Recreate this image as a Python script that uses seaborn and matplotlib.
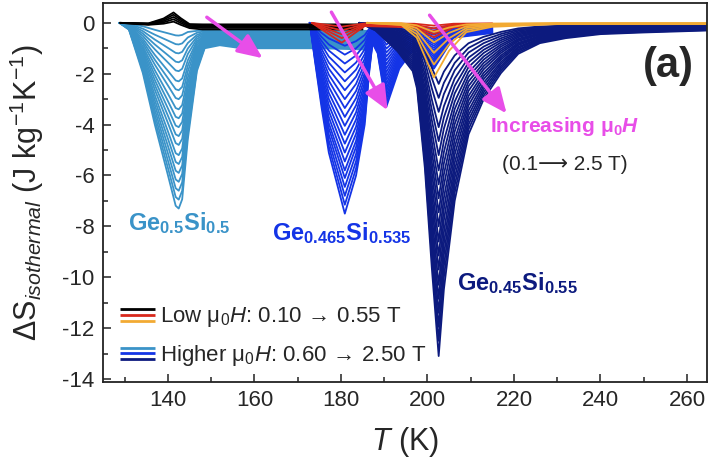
import numpy as np
import pandas as pd
import matplotlib
matplotlib.use("Agg")
import matplotlib.pyplot as plt
import seaborn as sns
from matplotlib.ticker import MultipleLocator
from matplotlib.legend_handler import HandlerBase
from matplotlib.lines import Line2D

# ---------------- data ----------------
fields_low = [0.1, 0.2, 0.3, 0.4, 0.5]
fields_high = [0.6, 0.7, 0.8, 0.9, 1.0, 1.1, 1.2, 1.3, 1.4, 1.5,
               1.6, 1.7, 1.8, 1.9, 2.0, 2.1, 2.2, 2.3, 2.4, 2.5]

# Ge0.5Si0.5  (higher fields): curve = peak*peak_shape + tail*tail_shape
s1_T_high = [128.8, 131.0, 134.2, 137.0, 140.0, 141.8, 142.5, 143.3, 144.6, 146.7,
             148.5, 152.0, 157.0, 175.0, 186.0]
s1_peak_shape = [0, 0.03, 0.27, 0.55, 0.82, 0.985, 1.0, 0.95, 0.6, 0.15,
                 0, 0, 0, 0, 0]
s1_tail_shape = [0, 0.05, 0, 0, 0, 0, 0, 0, 0.2, 0.8,
                 1.0, 0.88, 1.0, 1.0, 1.05]
s1_peak = [-0.5, -0.85, -1.2, -1.55, -1.9, -2.3, -2.65, -3.0, -3.4, -3.75,
           -4.1, -4.45, -4.8, -5.2, -5.55, -5.9, -6.25, -6.6, -6.95, -7.3]
s1_tail = [-0.3, -0.33, -0.37, -0.4, -0.44, -0.48, -0.51, -0.55, -0.59, -0.62,
           -0.66, -0.7, -0.73, -0.77, -0.81, -0.84, -0.88, -0.92, -0.96, -1.0]
# Ge0.5Si0.5 (low fields)
s1_T_low = [129.0, 135.5, 139.0, 141.3, 143.0, 145.0, 148.0, 160.0, 175.0, 185.0]
s1_low_peak_shape = [0, 0, 0.45, 1.0, 0.5, 0, 0, 0, 0, 0]
s1_low_tail_shape = [0, 0.3, 0.3, 0.2, 0.5, 0.8, 1.0, 1.0, 1.0, 1.0]
s1_low_peak = [0.42, 0.34, 0.26, 0.18, 0.1]
s1_low_tail = [-0.06, -0.1, -0.15, -0.2, -0.26]

# Ge0.465Si0.535 (higher fields)
s2_T_high = [172.8, 174.0, 175.5, 177.2, 180.9, 183.5, 185.5, 186.5, 187.3, 188.5,
             190.5, 193.5, 197.0, 201.5, 206.0, 215.0]
s2_peak_shape = [0, 0.2, 0.44, 0.68, 1.0, 0.8, 0.533, 0.267, 0.107, 0.16,
                 0.44, 0.24, 0.1, 0.2, 0.03, 0]
s2_tail_shape = [0, 0, 0, 0, 0, 0, 0, 0, 0, 0,
                 0, 0, 0.6, 0.75, 0.9, 1.0]
s2_peak = [-0.9, -1.25, -1.6, -1.95, -2.3, -2.65, -3.0, -3.35, -3.7, -4.05,
           -4.4, -4.75, -5.1, -5.45, -5.8, -6.1, -6.45, -6.8, -7.15, -7.5]
s2_tail = [-0.05, -0.07, -0.09, -0.11, -0.13, -0.15, -0.17, -0.19, -0.21, -0.23,
           -0.25, -0.27, -0.29, -0.31, -0.33, -0.35, -0.36, -0.37, -0.38, -0.4]
# Ge0.465Si0.535 (low fields)
s2_T_low = [173.3, 176.0, 180.2, 183.0, 185.5, 188.0, 197.0, 201.5, 206.0, 215.0]
s2_low_peak_shape = [0, 0.4, 1.0, 0.55, 0.1, 0.05, 0.1, 0.6, 0.1, 0]
s2_low_tail_shape = [0, 0, 0, 0, 0.5, 1, 1, 1, 1, 1]
s2_low_peak = [-0.15, -0.3, -0.45, -0.6, -0.78]
s2_low_tail = [-0.02, -0.04, -0.06, -0.08, -0.1]

# Ge0.45Si0.55 (higher fields)
s3_T_high = [184.3, 188.0, 193.0, 196.6, 197.6, 199.4, 201.0, 202.6, 203.8, 206.3,
             209.5, 213.0, 217.0, 221.0, 226.0, 232.0, 240.0, 250.0, 265.0]
s3_peak_shape = [0, 0.023, 0.084, 0.145, 0.198, 0.435, 0.733, 1.0, 0.80, 0.534,
                 0.33, 0.22, 0.13, 0.07, 0.038, 0.023, 0.011, 0.006, 0]
s3_tail_shape = [0, 0, 0, 0, 0, 0, 0, 0, 0, 0,
                 0.2, 0.4, 0.9, 1.0, 1.0, 1.0, 1.0, 1.0, 1.0]
s3_peak = [-2.4, -2.95, -3.5, -4.1, -4.65, -5.2, -5.8, -6.35, -6.9, -7.45,
           -8.0, -8.6, -9.15, -9.7, -10.3, -10.85, -11.4, -11.95, -12.5, -13.1]
s3_tail = [-0.05, -0.06, -0.07, -0.08, -0.09, -0.1, -0.11, -0.12, -0.14, -0.15,
           -0.16, -0.18, -0.19, -0.2, -0.22, -0.23, -0.25, -0.26, -0.28, -0.3]
# Ge0.45Si0.55 (low fields)
s3_T_low = [186.0, 194.0, 197.5, 201.5, 205.0, 209.0, 215.0, 230.0, 265.0]
s3_low_peak_shape = [0, 0.03, 0.25, 1.0, 0.5, 0.15, 0.05, 0, 0]
s3_low_tail_shape = [0, 0.5, 1, 1, 1, 1, 1, 1, 1]
s3_low_peak = [-0.35, -0.75, -1.15, -1.6, -2.1]
s3_low_tail = [-0.01, -0.02, -0.03, -0.04, -0.05]

x_ticks = [140, 160, 180, 200, 220, 240, 260]
y_ticks = [0, -2, -4, -6, -8, -10, -12, -14]

# ---------------- colours ----------------
c_lblue, c_blue, c_navy = "#3a93c8", "#1434e6", "#0c1a7e"
c_black, c_red, c_orange = "#000000", "#d8281c", "#f2aa33"
c_mag = "#e84ee8"

# ---------------- style ----------------
sns.set_style("ticks")
plt.rcParams["font.family"] = ["Liberation Sans", "DejaVu Sans"]
plt.rcParams["mathtext.fontset"] = "custom"
plt.rcParams["mathtext.rm"] = "Liberation Sans"
plt.rcParams["mathtext.it"] = "Liberation Sans:italic"
plt.rcParams["mathtext.bf"] = "Liberation Sans:bold"
plt.rcParams["mathtext.bfit"] = "Liberation Sans:bold:italic"
plt.rcParams["mathtext.fallback"] = "stixsans"
plt.rcParams["axes.unicode_minus"] = False


def family_frame(T, peak_shape, tail_shape, peaks, tails, fields):
    rows = []
    for f, p, t in zip(fields, peaks, tails):
        for Tj, a, b in zip(T, peak_shape, tail_shape):
            rows.append((f, Tj, p * a + t * b))
    return pd.DataFrame(rows, columns=["field", "T", "dS"])


fig = plt.figure(figsize=(7.09, 4.62), dpi=100)
ax = fig.add_axes([0.1453, 0.1742, 0.8523, 0.8193])

families = [
    (family_frame(s1_T_high, s1_peak_shape, s1_tail_shape, s1_peak, s1_tail, fields_high), c_lblue),
    (family_frame(s2_T_high, s2_peak_shape, s2_tail_shape, s2_peak, s2_tail, fields_high), c_blue),
    (family_frame(s3_T_high, s3_peak_shape, s3_tail_shape, s3_peak, s3_tail, fields_high), c_navy),
    (family_frame(s1_T_low, s1_low_peak_shape, s1_low_tail_shape, s1_low_peak, s1_low_tail, fields_low), c_black),
    (family_frame(s2_T_low, s2_low_peak_shape, s2_low_tail_shape, s2_low_peak, s2_low_tail, fields_low), c_red),
    (family_frame(s3_T_low, s3_low_peak_shape, s3_low_tail_shape, s3_low_peak, s3_low_tail, fields_low), c_orange),
]
for df, col in families:
    sns.lineplot(data=df, x="T", y="dS", units="field", estimator=None, sort=False,
                 color=col, lw=1.3, ax=ax, legend=False)

ax.set_xlim(125, 264.7)
ax.set_ylim(-14.1, 0.78)
ax.set_xticks(x_ticks)
ax.set_yticks(y_ticks)
ax.xaxis.set_minor_locator(MultipleLocator(10))
ax.yaxis.set_minor_locator(MultipleLocator(1))
ax.tick_params(which="both", direction="in", top=False, right=False,
               width=1.1, color="#222222")
ax.tick_params(which="major", length=6, labelsize=16, pad=6)
ax.tick_params(which="minor", length=3.5)
for s in ax.spines.values():
    s.set_linewidth(1.3)
    s.set_color("#222222")

ax.set_xlabel(r"$\mathit{T}$ (K)", fontsize=22)
ax.xaxis.set_label_coords(0.5, -0.115)
ax.set_ylabel(r"$\Delta$S$_{\mathit{isothermal}}$ (J kg$^{-1}$K$^{-1}$)", fontsize=22)
ax.yaxis.set_label_coords(-0.095, 0.5)

# sample labels
ax.text(130.7, -8.16, r"Ge$_{\mathbf{0.5}}$Si$_{\mathbf{0.5}}$", color=c_lblue,
        fontsize=17, fontweight="bold", va="baseline", ha="left")
ax.text(164.0, -8.55, r"Ge$_{\mathbf{0.465}}$Si$_{\mathbf{0.535}}$", color=c_blue,
        fontsize=17, fontweight="bold", va="baseline", ha="left")
ax.text(206.9, -10.5, r"Ge$_{\mathbf{0.45}}$Si$_{\mathbf{0.55}}$", color=c_navy,
        fontsize=17, fontweight="bold", va="baseline", ha="left")

ax.text(255.6, -1.7, "(a)", fontsize=30, fontweight="bold", ha="center", va="center")
ax.text(214.4, -4.3, r"Increasing μ$_{\mathbf{0}}\mathbfit{H}$", color=c_mag,
        fontsize=15, fontweight="bold", va="baseline", ha="left")
ax.text(217.2, -5.8, "(0.1⟶ 2.5 T)", fontsize=15, va="baseline", ha="left")

# arrows
for (x0, y0), (x1, y1) in [((149.0, 0.22), (161.9, -1.39)),
                           ((177.8, 0.42), (190.8, -3.44)),
                           ((200.5, 0.30), (218.3, -3.56))]:
    ax.annotate("", xy=(x1, y1), xytext=(x0, y0),
                arrowprops=dict(arrowstyle="-|>,head_length=0.75,head_width=0.33",
                                mutation_scale=20, lw=2.5, color=c_mag,
                                shrinkA=0, shrinkB=0), zorder=10)


# legend with stacked line keys
class StackedKey:
    def __init__(self, colors):
        self.colors = colors


class StackedHandler(HandlerBase):
    def create_artists(self, legend, orig_handle, xdescent, ydescent, width, height,
                       fontsize, trans):
        arts = []
        cy = height / 2 - ydescent
        for i, c in enumerate(orig_handle.colors):
            y = cy + (1 - i) * height * 0.38
            ln = Line2D([-xdescent, width - xdescent], [y, y], color=c, lw=2.0,
                        solid_capstyle="butt")
            ln.set_transform(trans)
            arts.append(ln)
        return arts


keys = [StackedKey([c_black, c_red, c_orange]), StackedKey([c_lblue, c_blue, c_navy])]
labels = [r"Low μ$_0\mathit{H}$: 0.10 $\!\rightarrow\!$ 0.55 T",
          r"Higher μ$_0\mathit{H}$: 0.60 $\!\rightarrow\!$ 2.50 T"]
ax.legend(keys, labels, handler_map={StackedKey: StackedHandler()},
          loc="lower left", bbox_to_anchor=(0.028, 0.035), frameon=False,
          fontsize=16, handlelength=1.6, handletextpad=0.2, labelspacing=0.62,
          borderpad=0, borderaxespad=0)

fig.savefig("out.png", dpi=100)
